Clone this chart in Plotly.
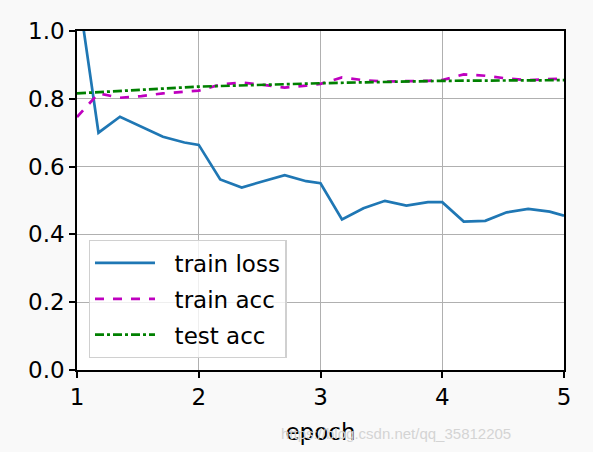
import plotly.graph_objects as go

# train loss / train acc logged 6 times per epoch (num_batches = 17)
batch_x = [1.0,
           1 + 3 / 17, 1 + 6 / 17, 1 + 9 / 17, 1 + 12 / 17, 1 + 15 / 17, 2.0,
           2 + 3 / 17, 2 + 6 / 17, 2 + 9 / 17, 2 + 12 / 17, 2 + 15 / 17, 3.0,
           3 + 3 / 17, 3 + 6 / 17, 3 + 9 / 17, 3 + 12 / 17, 3 + 15 / 17, 4.0,
           4 + 3 / 17, 4 + 6 / 17, 4 + 9 / 17, 4 + 12 / 17, 4 + 15 / 17, 5.0]
train_loss = [1.14,
              0.700, 0.747, 0.718, 0.688, 0.671, 0.664,
              0.562, 0.538, 0.557, 0.575, 0.557, 0.551,
              0.444, 0.477, 0.499, 0.485, 0.495, 0.495,
              0.438, 0.440, 0.465, 0.475, 0.467, 0.455]
train_acc = [0.746,
             0.816, 0.803, 0.808, 0.816, 0.820, 0.824,
             0.842, 0.848, 0.841, 0.833, 0.839, 0.844,
             0.863, 0.855, 0.851, 0.851, 0.853, 0.855,
             0.872, 0.868, 0.860, 0.855, 0.857, 0.860]

epochs = [1, 2, 3, 4, 5]
test_acc = [0.816, 0.836, 0.846, 0.853, 0.855]

x_ticks = [1, 2, 3, 4, 5]
y_ticks = [0.0, 0.2, 0.4, 0.6, 0.8, 1.0]

FONT = "DejaVu Sans"
PAD = "\u00a0\u00a0"  # gap between legend line sample and label

fig = go.Figure()
fig.add_trace(go.Scatter(x=batch_x, y=train_loss, mode="lines", name=PAD + "train loss",
                         legendgroup="a", line=dict(color="#1f77b4", width=2.7)))
fig.add_trace(go.Scatter(x=batch_x, y=train_acc, mode="lines", name=PAD + "train acc",
                         legendgroup="b", line=dict(color="#bf00bf", width=2.7, dash="dash")))
fig.add_trace(go.Scatter(x=epochs, y=test_acc, mode="lines", name=PAD + "test acc",
                         legendgroup="c", line=dict(color="#008000", width=2.7, dash="dashdot")))

axis_style = dict(
    showgrid=True, gridcolor="#b0b0b0", gridwidth=1.3,
    showline=True, linecolor="black", linewidth=1.6, mirror=True,
    ticks="outside", ticklen=6, tickwidth=1.6, tickcolor="black",
    zeroline=False, tickfont=dict(size=23, color="black"),
)

fig.update_xaxes(range=[1, 5], tickvals=x_ticks, ticktext=[str(t) for t in x_ticks],
                 title=dict(text="epoch", font=dict(size=23, color="black"), standoff=14),
                 **axis_style)
fig.update_yaxes(range=[0, 1], tickvals=y_ticks, ticktext=[f"{t:.1f}" for t in y_ticks],
                 **axis_style)

fig.add_annotation(text="https://blog.csdn.net/qq_35812205", xref="paper", yref="paper",
                   x=(513 - 77) / 487, y=-(433 - 370) / 339, xanchor="right", yanchor="middle",
                   showarrow=False, font=dict(family="Liberation Sans", size=15, color="#d4d4d4"))

fig.update_layout(
    width=593, height=452,
    margin=dict(l=77, r=29, t=31, b=82),
    paper_bgcolor="#f9f9f9", plot_bgcolor="white",
    font=dict(family=FONT, color="black"),
    legend=dict(x=0.024, y=0.035, xanchor="left", yanchor="bottom",
                traceorder="grouped", tracegroupgap=3, itemwidth=60,
                bgcolor="rgba(255,255,255,0.8)", bordercolor="#d0d0d0", borderwidth=1.3,
                font=dict(size=23, color="black")),
)

fig.write_html("out.html", config={"displayModeBar": False},
               post_script="document.body.style.margin='0';")
